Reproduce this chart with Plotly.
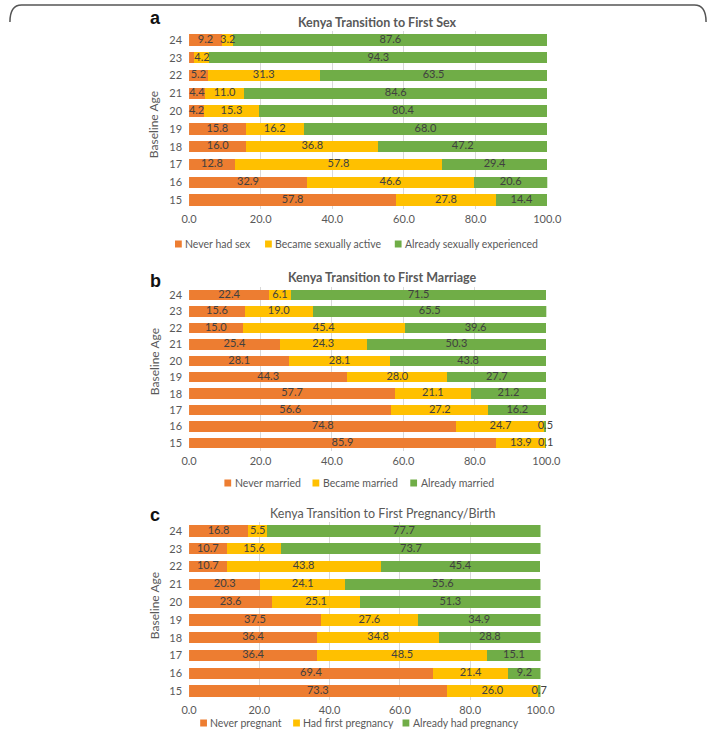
import plotly.graph_objects as go

W, H = 723, 731

ages = ["15", "16", "17", "18", "19", "20", "21", "22", "23", "24"]

# Panel a: Kenya Transition to First Sex (values listed for ages 15..24)
sex_never = [57.8, 32.9, 12.8, 16.0, 15.8, 4.2, 4.4, 5.2, 1.5, 9.2]
sex_became = [27.8, 46.6, 57.8, 36.8, 16.2, 15.3, 11.0, 31.3, 4.2, 3.2]
sex_already = [14.4, 20.6, 29.4, 47.2, 68.0, 80.4, 84.6, 63.5, 94.3, 87.6]

# Panel b: Kenya Transition to First Marriage
mar_never = [85.9, 74.8, 56.6, 57.7, 44.3, 28.1, 25.4, 15.0, 15.6, 22.4]
mar_became = [13.9, 24.7, 27.2, 21.1, 28.0, 28.1, 24.3, 45.4, 19.0, 6.1]
mar_already = [0.1, 0.5, 16.2, 21.2, 27.7, 43.8, 50.3, 39.6, 65.5, 71.5]

# Panel c: Kenya Transition to First Pregnancy/Birth
preg_never = [73.3, 69.4, 36.4, 36.4, 37.5, 23.6, 20.3, 10.7, 10.7, 16.8]
preg_had = [26.0, 21.4, 48.5, 34.8, 27.6, 25.1, 24.1, 43.8, 15.6, 5.5]
preg_already = [0.7, 9.2, 15.1, 28.8, 34.9, 51.3, 55.6, 45.4, 73.7, 77.7]

x_ticks = [0, 20, 40, 60, 80, 100]

panels = [
    dict(letter="a", title="Kenya Transition to First Sex", bold=True,
         series=[("Never had sex", sex_never), ("Became sexually active", sex_became),
                 ("Already sexually experienced", sex_already)],
         hidden={(0, "23")}),
    dict(letter="b", title="Kenya Transition to First Marriage", bold=True,
         series=[("Never married", mar_never), ("Became married", mar_became),
                 ("Already married", mar_already)],
         hidden=set()),
    dict(letter="c", title="Kenya Transition to First Pregnancy/Birth", bold=False,
         series=[("Never pregnant", preg_never), ("Had first pregnancy", preg_had),
                 ("Already had pregnancy", preg_already)],
         hidden=set()),
]

colors = ["#ED7D31", "#FFC000", "#70AD47"]
FONT = "Lato"
GRAY = "#595959"

# layout geometry in pixels
geo = [
    dict(x0=187, x1=557, top=31.1, bottom=208.9, title_y=23, title_x=382,
         letter_y=18, ytitle_y=125, legend_y=244, legend_x=[176, 269, 403]),
    dict(x0=187, x1=556, top=286.8, bottom=451.2, title_y=277, title_x=387,
         letter_y=281, ytitle_y=362, legend_y=483, legend_x=[227, 318, 419]),
    dict(x0=187, x1=550, top=522.1, bottom=699.9, title_y=513, title_x=387,
         letter_y=515, ytitle_y=606, legend_y=723, legend_x=[202, 298, 411]),
]

def fx(px):
    return px / W

def fy(py):
    return 1 - py / H

fig = go.Figure()
annotations = []
shapes = []
layout_axes = {}

for i, (p, g) in enumerate(zip(panels, geo)):
    n = "" if i == 0 else str(i + 1)
    xa, ya = "x" + n, "y" + n
    base = [0.0] * len(ages)
    for j, (name, vals) in enumerate(p["series"]):
        fig.add_trace(go.Bar(
            y=ages, x=vals, orientation="h", name=name,
            marker=dict(color=colors[j], line=dict(width=0)),
            xaxis=xa, yaxis=ya, showlegend=False, hoverinfo="skip",
        ))
        centers = [b + v / 2 for b, v in zip(base, vals)]
        texts = ["" if (j, a) in p["hidden"] else f"{v:.1f}" for v, a in zip(vals, ages)]
        fig.add_trace(go.Scatter(
            x=centers, y=ages, mode="text", text=texts, textposition="middle center",
            textfont=dict(family=FONT, size=11, color="#404040"),
            xaxis=xa, yaxis=ya, showlegend=False, hoverinfo="skip", cliponaxis=False,
        ))
        base = [b + v for b, v in zip(base, vals)]
        # manual legend entry
        mx = g["legend_x"][j]
        my = g["legend_y"]
        shapes.append(dict(type="rect", xref="paper", yref="paper",
                           x0=fx(mx - 3.5), x1=fx(mx + 3.5), y0=fy(my + 3.5), y1=fy(my - 3.5),
                           fillcolor=colors[j], line=dict(width=0)))
        annotations.append(dict(text=name, x=fx(mx + 5), y=fy(my), xref="paper", yref="paper",
                                xanchor="left", yanchor="middle", showarrow=False,
                                font=dict(family=FONT, size=10.5, color=GRAY)))
    layout_axes["xaxis" + n] = dict(
        domain=[fx(g["x0"]), fx(g["x1"])], anchor=ya, range=[0, 100],
        tickvals=x_ticks, tickformat=".1f", showgrid=True, gridcolor="#D9D9D9",
        gridwidth=1, zeroline=False, showline=False, ticks="",
        ticklabelstandoff=2,
        tickfont=dict(family=FONT, size=11, color=GRAY), fixedrange=True,
    )
    layout_axes["yaxis" + n] = dict(
        domain=[fy(g["bottom"]), fy(g["top"])], anchor=xa, type="category",
        categoryorder="array", categoryarray=ages, range=[-0.5, 9.5],
        showgrid=False, zeroline=False, showline=False, ticks="",
        ticklabelstandoff=6,
        tickfont=dict(family=FONT, size=11, color=GRAY), fixedrange=True,
    )
    t = f"<b>{p['title']}</b>" if p["bold"] else p["title"]
    annotations.append(dict(text=t, x=fx(g["title_x"]), y=fy(g["title_y"]),
                            xref="paper", yref="paper", xanchor="center",
                            yanchor="middle", showarrow=False,
                            font=dict(family=FONT, size=12.5, color=GRAY)))
    annotations.append(dict(text=f"<b>{p['letter']}</b>", x=fx(152), y=fy(g["letter_y"]),
                            xref="paper", yref="paper", xanchor="center",
                            yanchor="middle", showarrow=False,
                            font=dict(family="Liberation Sans", size=18, color="#111111")))
    annotations.append(dict(text="Baseline Age", x=fx(151), y=fy(g["ytitle_y"]),
                            xref="paper", yref="paper", xanchor="center",
                            yanchor="middle", textangle=-90, showarrow=False,
                            font=dict(family=FONT, size=12, color=GRAY)))

frame_path = (f"M {fx(2)},{fy(22)} Q {fx(2)},{fy(5)} {fx(14)},{fy(5)} "
              f"L {fx(709)},{fy(5)} Q {fx(721)},{fy(5)} {fx(721)},{fy(22)}")
shapes.append(dict(type="path", path=frame_path, xref="paper", yref="paper",
                   line=dict(color="#555555", width=1.5)))

fig.update_layout(
    width=W, height=H, margin=dict(l=0, r=0, t=0, b=0),
    paper_bgcolor="white", plot_bgcolor="white",
    barmode="stack", bargap=0.36, showlegend=False,
    annotations=annotations, shapes=shapes,
    font=dict(family=FONT),
    **layout_axes,
)

fig.write_html("out.html")
